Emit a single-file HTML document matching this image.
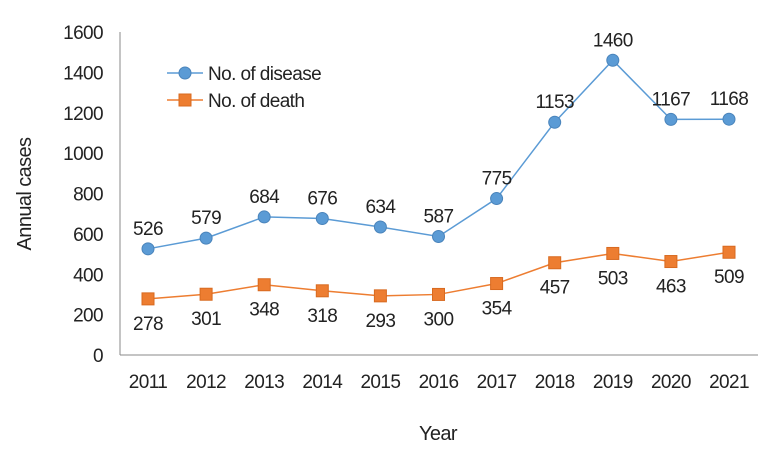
<!DOCTYPE html>
<html><head><meta charset="utf-8"><style>
body{margin:0;background:#fff}
svg text{font-family:"Liberation Sans Narrow","Liberation Sans",sans-serif;fill:#222;letter-spacing:-0.6px}
</style></head><body>
<svg id="c" width="778" height="459" xmlns="http://www.w3.org/2000/svg"></svg>
<script>
const years=[2011,2012,2013,2014,2015,2016,2017,2018,2019,2020,2021];
const disease=[526,579,684,676,634,587,775,1153,1460,1167,1168];
const death=[278,301,348,318,293,300,354,457,503,463,509];
const yTicks=[0,200,400,600,800,1000,1200,1400,1600];
const svg=document.getElementById('c');
const NS='http://www.w3.org/2000/svg';
const x=i=>148+i*58.1;
const y=v=>355-v*(323/1600);
function mk(t,a,p){const e=document.createElementNS(NS,t);for(const k in a)e.setAttribute(k,a[k]);(p||svg).appendChild(e);return e;}
function txt(s,a){const e=mk('text',a);e.textContent=s;return e;}
let ax=mk('line',{x1:120,y1:355,x2:758,y2:355,stroke:'#888','stroke-width':1});


let ay=mk('line',{x1:120,y1:32,x2:120,y2:355,stroke:'#888','stroke-width':1});


yTicks.forEach(v=>{
  const t=txt(v,{x:103,y:y(v)+7,'text-anchor':'end','font-size':19});
  
  
});
years.forEach((yr,i)=>{
  const t=txt(yr,{x:x(i),y:388,'text-anchor':'middle','font-size':19});
  
  
});
let xt=txt('Year',{x:438,y:440,'text-anchor':'middle','font-size':20});


let yt=txt('Annual cases',{x:0,y:0,'text-anchor':'middle','font-size':20,transform:'translate(31,194) rotate(-90)'});


function series(vals,color,stroke,shape,name,above){
  const d=vals.map((v,i)=>(i?'L':'M')+x(i)+','+y(v)).join(' ');
  const p=mk('path',{d:d,fill:'none',stroke:color,'stroke-width':1.5});
  
  
  vals.forEach((v,i)=>{
    let m;
    if(shape==='c') m=mk('circle',{cx:x(i),cy:y(v),r:6,fill:color,stroke:stroke,'stroke-width':1});
    else m=mk('rect',{x:x(i)-6,y:y(v)-6,width:12,height:12,fill:color,stroke:stroke,'stroke-width':1});
    
    
    const l=txt(v,{x:x(i),y:above?y(v)-14:y(v)+31,'text-anchor':'middle','font-size':19});
    
    
  });
}
series(disease,'#5b9bd5','#4a84bb','c','disease',true);
series(death,'#ed7d31','#d86a20','s','death',false);
let g=mk('g',{});


mk('line',{x1:167,y1:73,x2:203,y2:73,stroke:'#5b9bd5','stroke-width':1.5},g);
mk('circle',{cx:185,cy:73,r:6,fill:'#5b9bd5',stroke:'#4a84bb'},g);
let t1=mk('text',{x:208,y:80,'font-size':19},g);t1.textContent='No. of disease';


mk('line',{x1:167,y1:100,x2:203,y2:100,stroke:'#ed7d31','stroke-width':1.5},g);
mk('rect',{x:179,y:94,width:12,height:12,fill:'#ed7d31',stroke:'#d86a20'},g);
let t2=mk('text',{x:208,y:107,'font-size':19},g);t2.textContent='No. of death';


</script>
</body></html>
